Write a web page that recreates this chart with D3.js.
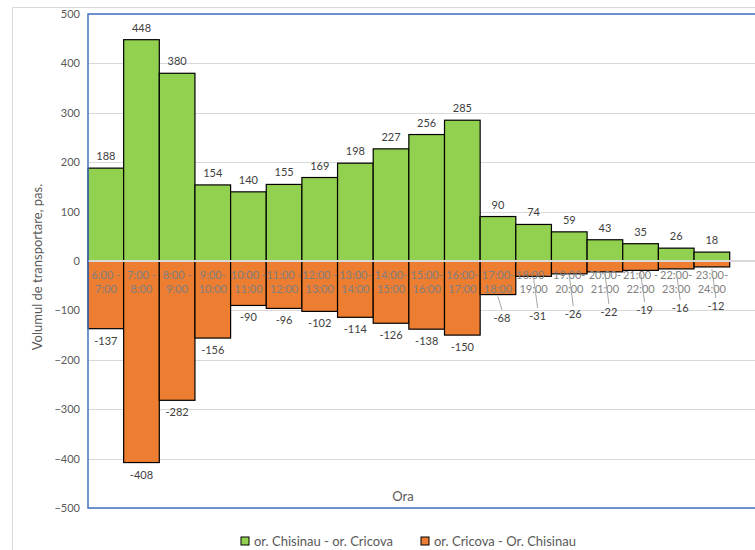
<!DOCTYPE html>
<html><head><meta charset="utf-8">
<script src="https://cdn.jsdelivr.net/npm/d3@7"></script>
<style>body{margin:0;background:#fff}svg{display:block;font-family:Lato,"Open Sans",sans-serif}</style>
</head><body>
<svg id="chart" width="755" height="550"></svg>
<script>
const categories = ["6:00 -|7:00","7:00 -|8:00","8:00 -|9:00","9:00-|10:00","10:00 -|11:00","11:00 -|12:00","12:00 -|13:00","13:00-|14:00","14:00-|15:00","15:00-|16:00","16:00-|17:00","17:00-|18:00","18:00 -|19:00","19:00-|20:00","20:00-|21:00","21:00 -|22:00","22:00-|23:00","23:00-|24:00"];
const seriesNames = ["or. Chisinau - or. Cricova", "or. Cricova - Or. Chisinau"];
const toCricova = [188,448,380,154,140,155,169,198,227,256,285,90,74,59,43,35,26,18];
const toChisinau = [-137,-408,-282,-156,-90,-96,-102,-114,-126,-138,-150,-68,-31,-26,-22,-19,-16,-12];
const yTicks = [500,400,300,200,100,0,-100,-200,-300,-400,-500];
const colors = ["#92d050", "#ed7d31"];

(function(){
const svg = d3.select("#chart");
const mLeft = 88, mTop = 14, mBottom = 508, plotRight = 765;
const x = d3.scaleBand().domain(categories).range([mLeft, mLeft + 35.65 * categories.length]).padding(0);
const y = d3.scaleLinear().domain([-500, 500]).range([mBottom, mTop]);

// chart area border
svg.append("path").attr("d", `M12.5,560V7.5H760`).attr("fill","none").attr("stroke","#d9d9d9").attr("stroke-width",1);

// gridlines
svg.append("g").selectAll("line").data(yTicks.filter(t => t !== 0)).join("line")
  .attr("x1", mLeft).attr("x2", plotRight).attr("y1", d => Math.round(y(d)) + 0.5).attr("y2", d => Math.round(y(d)) + 0.5)
  .attr("stroke", "#d9d9d9").attr("stroke-width", 1);

// y axis labels
const yAxis = d3.axisLeft(y).tickValues(yTicks).tickSize(0).tickPadding(8);
const gy = svg.append("g").attr("transform", `translate(${mLeft},0)`).call(yAxis);
gy.select(".domain").remove();
gy.selectAll("text").attr("font-size", 11).attr("fill", "#595959").attr("font-family", "Lato, sans-serif");

// bars
svg.append("g").selectAll("rect").data(toCricova).join("rect")
  .attr("x", (d,i) => x(categories[i])).attr("width", x.bandwidth())
  .attr("y", d => y(d)).attr("height", d => y(0) - y(d))
  .attr("fill", colors[0]).attr("stroke", "#000").attr("stroke-width", 1.2);
svg.append("g").selectAll("rect").data(toChisinau).join("rect")
  .attr("x", (d,i) => x(categories[i])).attr("width", x.bandwidth())
  .attr("y", y(0)).attr("height", d => y(d) - y(0))
  .attr("fill", colors[1]).attr("stroke", "#000").attr("stroke-width", 1.2);

// zero line
svg.append("line").attr("x1", mLeft).attr("x2", plotRight).attr("y1", y(0)).attr("y2", y(0))
  .attr("stroke", "#d9d9d9").attr("stroke-width", 2);

// plot area border (blue)
svg.append("path").attr("d", `M${plotRight},${mTop}H${mLeft}V${mBottom}H${plotRight}`)
  .attr("fill", "none").attr("stroke", "#4472c4").attr("stroke-width", 1.5);

// category labels
const cat = svg.append("g");
categories.forEach((c, i) => {
  const parts = c.split("|");
  const cx = x(c) + x.bandwidth()/2;
  const t = cat.append("text").attr("x", cx).attr("y", y(0) + 18)
    .attr("text-anchor", "middle").attr("font-size", 11).attr("fill", "#7f7f7f");
  t.append("tspan").attr("x", cx).text(parts[0]);
  t.append("tspan").attr("x", cx).attr("dy", 14).text(parts[1]);
});

// positive data labels
svg.append("g").selectAll("text").data(toCricova).join("text")
  .attr("x", (d,i) => x(categories[i]) + x.bandwidth()/2).attr("y", d => y(d) - 8)
  .attr("text-anchor", "middle").attr("font-size", 11).attr("fill", "#404040").text(d => d);

// negative data labels (small bars moved below category labels with leader lines)
const negG = svg.append("g");
toChisinau.forEach((d, i) => {
  const cx = x(categories[i]) + x.bandwidth()/2;
  const small = i >= 11;
  let lx = cx, ly = y(d) + 16;
  if (small) {
    lx = cx + 4;
    ly = 322 - (i - 11) * 2;
    negG.append("line").attr("x1", cx).attr("y1", y(d) + 2).attr("x2", lx).attr("y2", ly - 12)
      .attr("stroke", "#a6a6a6").attr("stroke-width", 1);
  }
  negG.append("text").attr("x", lx).attr("y", ly).attr("text-anchor", "middle")
    .attr("font-size", 11).attr("fill", "#404040").text(d);
});

// axis titles
svg.append("text").attr("transform", `translate(42,${(mTop+mBottom)/2 + 6}) rotate(-90)`)
  .attr("text-anchor", "middle").attr("font-size", 13).attr("fill", "#595959").text("Volumul de transportare, pas.");
svg.append("text").attr("x", 403).attr("y", 501).attr("text-anchor", "middle")
  .attr("font-size", 13).attr("fill", "#595959").text("Ora");

// legend
const legendX = [241, 421];
seriesNames.forEach((n, i) => {
  const g = svg.append("g").attr("transform", `translate(${legendX[i]},537)`);
  g.append("rect").attr("width", 8).attr("height", 8).attr("fill", colors[i]).attr("stroke", "#000").attr("stroke-width", 1);
  g.append("text").attr("x", 13).attr("y", 9).attr("font-size", 13).attr("fill", "#595959").text(n);
});
})();
</script>
</body></html>
